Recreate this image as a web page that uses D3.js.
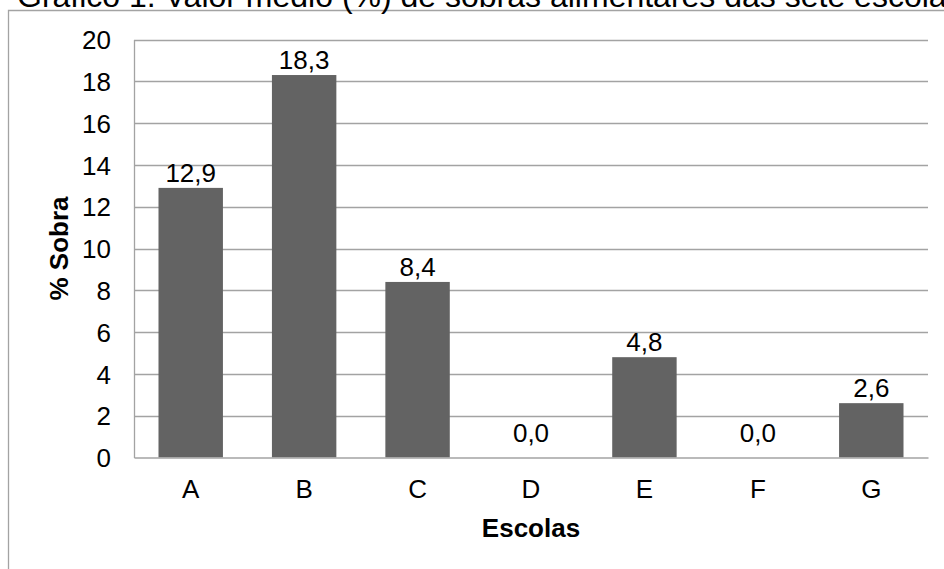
<!DOCTYPE html>
<html>
<head>
<meta charset="utf-8">
<script src="https://cdn.jsdelivr.net/npm/d3@7/dist/d3.min.js"></script>
<style>
  html, body { margin: 0; padding: 0; background: #fff; overflow: hidden; }
  svg { display: block; font-family: "Liberation Sans", Arial, sans-serif; }
</style>
</head>
<body>
<svg id="chart" width="944" height="569"></svg>
<script>
// Escolas e valor médio de sobras (%)
const escolas = ["A", "B", "C", "D", "E", "F", "G"];
const sobras = [12.9, 18.3, 8.4, 0.0, 4.8, 0.0, 2.6];
const yTicks = [0, 2, 4, 6, 8, 10, 12, 14, 16, 18, 20];
const titulo = "Gráfico 1. Valor médio (%) de sobras alimentares das sete escolas";
const tituloX = "Escolas";
const tituloY = "% Sobra";

const svg = d3.select("#chart");
const W = 944, H = 569;
const plot = { left: 134, right: 928, top: 39.5, bottom: 457.5 };

const grid = "#a3a3a3";
const barColor = "#636363";
const fmt = v => d3.format(".1f")(v).replace(".", ",");

// moldura do gráfico
svg.append("path")
  .attr("d", `M8.5,${H} V10.5 H${W}`)
  .attr("fill", "none")
  .attr("stroke", grid)
  .attr("stroke-width", 1.3);

// título (parcialmente acima da área visível)
svg.append("text")
  .attr("x", 17)
  .attr("y", 7)
  .attr("font-size", 32)
  .attr("fill", "#000")
  .text(titulo);

const x = d3.scaleBand()
  .domain(escolas)
  .range([plot.left, plot.right])
  .paddingInner(0.432)
  .paddingOuter(0.216);

const y = d3.scaleLinear()
  .domain([0, 20])
  .range([plot.bottom, plot.top]);

// linhas de grade horizontais
svg.append("g")
  .selectAll("line")
  .data(yTicks.filter(t => t > 0))
  .join("line")
  .attr("x1", plot.left)
  .attr("x2", plot.right)
  .attr("y1", d => Math.round(y(d)) + 0.5)
  .attr("y2", d => Math.round(y(d)) + 0.5)
  .attr("stroke", grid)
  .attr("stroke-width", 1.3);

// eixo Y
const yAxis = svg.append("g")
  .attr("transform", `translate(${plot.left},0)`)
  .call(d3.axisLeft(y).tickValues(yTicks).tickSize(0).tickPadding(23).tickFormat(d3.format("d")));
yAxis.select(".domain").attr("stroke", grid).attr("stroke-width", 1.3);
yAxis.selectAll("text")
  .attr("font-size", 26)
  .attr("font-family", "Liberation Sans, Arial, sans-serif")
  .attr("fill", "#000")
  .attr("dy", "0.35em");

// barras
svg.append("g")
  .selectAll("rect")
  .data(escolas.map((e, i) => ({ e, v: sobras[i] })))
  .join("rect")
  .attr("x", d => x(d.e))
  .attr("y", d => y(d.v))
  .attr("width", x.bandwidth())
  .attr("height", d => y(0) - y(d.v))
  .attr("fill", barColor);

// eixo X
const xAxis = svg.append("g")
  .attr("transform", `translate(0,${plot.bottom})`)
  .call(d3.axisBottom(x).tickSize(0).tickPadding(22));
xAxis.select(".domain").attr("stroke", grid).attr("stroke-width", 1.6);
xAxis.selectAll("text")
  .attr("font-size", 26)
  .attr("font-family", "Liberation Sans, Arial, sans-serif")
  .attr("fill", "#000");

// rótulos de valor
svg.append("g")
  .selectAll("text")
  .data(escolas.map((e, i) => ({ e, v: sobras[i] })))
  .join("text")
  .attr("x", d => x(d.e) + x.bandwidth() / 2)
  .attr("y", d => y(d.v) - (d.v === 0 ? 16 : 6))
  .attr("text-anchor", "middle")
  .attr("font-size", 26)
  .attr("fill", "#000")
  .text(d => fmt(d.v));

// títulos dos eixos
svg.append("text")
  .attr("x", (plot.left + plot.right) / 2)
  .attr("y", 537)
  .attr("text-anchor", "middle")
  .attr("font-size", 26)
  .attr("font-weight", "bold")
  .attr("fill", "#000")
  .text(tituloX);

svg.append("text")
  .attr("transform", `translate(68,${(plot.top + plot.bottom) / 2}) rotate(-90)`)
  .attr("text-anchor", "middle")
  .attr("font-size", 26)
  .attr("font-weight", "bold")
  .attr("fill", "#000")
  .text(tituloY);
</script>
</body>
</html>
